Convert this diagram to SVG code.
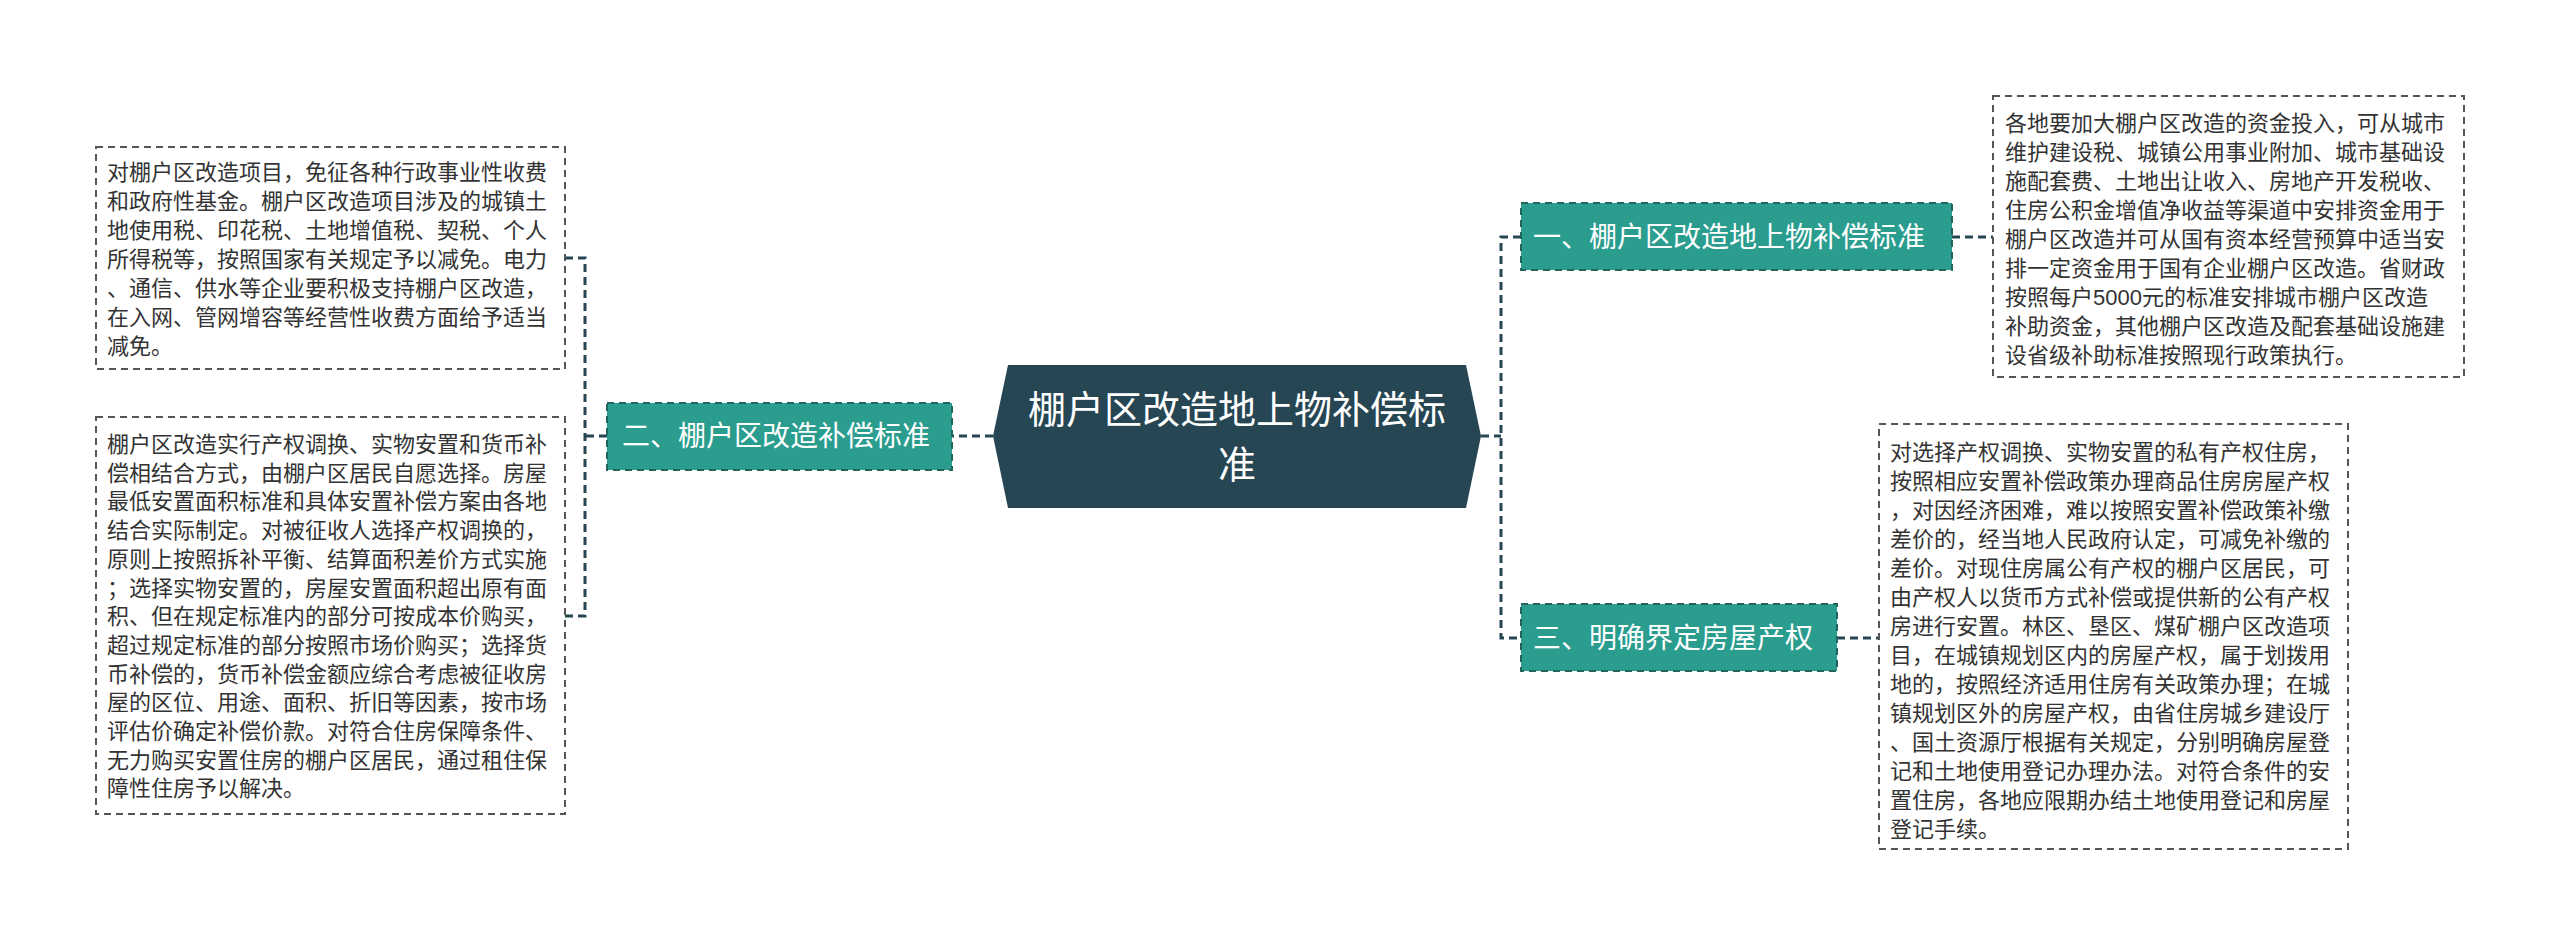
<svg xmlns="http://www.w3.org/2000/svg" width="2560" height="946" viewBox="0 0 2560 946">
<style>
text{font-family:"Liberation Sans","Noto Sans CJK SC",sans-serif}
.box{fill:#fff;stroke:#555;stroke-width:2;stroke-dasharray:7 5}
.bt{font-size:22px;fill:#333}
.sub{fill:#2a9d8f;stroke:#22655c;stroke-width:2;stroke-dasharray:7 5}
.st{font-size:28px;fill:#fff}
.con{fill:none;stroke:#264653;stroke-width:3;stroke-dasharray:8 5}
</style>
<rect width="2560" height="946" fill="#fff"/>
<g id="connectors">
<path class="con" d="M1481 436H1501M1521 237H1501V638H1521"/>
<path class="con" d="M993 436H952"/>
<path class="con" d="M607 436H585M565 258H585V616H565"/>
<path class="con" d="M1952 237H1993"/>
<path class="con" d="M1837 638H1879"/>
</g>
<g id="center">
<polygon points="993,436 1008,365 1466,365 1481,436 1466,508 1008,508" fill="#264653"/>
<text x="1237" y="423" font-size="38" fill="#fff" text-anchor="middle">棚户区改造地上物补偿标</text>
<text x="1237" y="478" font-size="38" fill="#fff" text-anchor="middle">准</text>
</g>
<g id="n2">
<rect class="sub" x="607" y="403" width="345" height="67"/>
<text class="st" x="622" y="446">二、棚户区改造补偿标准</text>
</g>
<g id="n1">
<rect class="sub" x="1521" y="203" width="431" height="67"/>
<text class="st" x="1533" y="247">一、棚户区改造地上物补偿标准</text>
</g>
<g id="n3">
<rect class="sub" x="1521" y="604" width="316" height="67"/>
<text class="st" x="1533" y="648">三、明确界定房屋产权</text>
</g>
<g id="l1">
<rect class="box" x="96" y="147" width="469" height="222"/>
<text class="bt" x="107" y="180"><tspan x="107">对棚户区改造项目，免征各种行政事业性收费</tspan><tspan x="107" dy="29">和政府性基金。棚户区改造项目涉及的城镇土</tspan><tspan x="107" dy="29">地使用税、印花税、土地增值税、契税、个人</tspan><tspan x="107" dy="29">所得税等，按照国家有关规定予以减免。电力</tspan><tspan x="107" dy="29">、通信、供水等企业要积极支持棚户区改造，</tspan><tspan x="107" dy="29">在入网、管网增容等经营性收费方面给予适当</tspan><tspan x="107" dy="29">减免。</tspan></text>
</g>
<g id="l2">
<rect class="box" x="96" y="417" width="469" height="397"/>
<text class="bt" x="107" y="452"><tspan x="107">棚户区改造实行产权调换、实物安置和货币补</tspan><tspan x="107" dy="28.7">偿相结合方式，由棚户区居民自愿选择。房屋</tspan><tspan x="107" dy="28.7">最低安置面积标准和具体安置补偿方案由各地</tspan><tspan x="107" dy="28.7">结合实际制定。对被征收人选择产权调换的，</tspan><tspan x="107" dy="28.7">原则上按照拆补平衡、结算面积差价方式实施</tspan><tspan x="107" dy="28.7">；选择实物安置的，房屋安置面积超出原有面</tspan><tspan x="107" dy="28.7">积、但在规定标准内的部分可按成本价购买，</tspan><tspan x="107" dy="28.7">超过规定标准的部分按照市场价购买；选择货</tspan><tspan x="107" dy="28.7">币补偿的，货币补偿金额应综合考虑被征收房</tspan><tspan x="107" dy="28.7">屋的区位、用途、面积、折旧等因素，按市场</tspan><tspan x="107" dy="28.7">评估价确定补偿价款。对符合住房保障条件、</tspan><tspan x="107" dy="28.7">无力购买安置住房的棚户区居民，通过租住保</tspan><tspan x="107" dy="28.7">障性住房予以解决。</tspan></text>
</g>
<g id="r1">
<rect class="box" x="1993" y="96" width="471" height="281"/>
<text class="bt" x="2005" y="131"><tspan x="2005">各地要加大棚户区改造的资金投入，可从城市</tspan><tspan x="2005" dy="29">维护建设税、城镇公用事业附加、城市基础设</tspan><tspan x="2005" dy="29">施配套费、土地出让收入、房地产开发税收、</tspan><tspan x="2005" dy="29">住房公积金增值净收益等渠道中安排资金用于</tspan><tspan x="2005" dy="29">棚户区改造并可从国有资本经营预算中适当安</tspan><tspan x="2005" dy="29">排一定资金用于国有企业棚户区改造。省财政</tspan><tspan x="2005" dy="29">按照每户5000元的标准安排城市棚户区改造</tspan><tspan x="2005" dy="29">补助资金，其他棚户区改造及配套基础设施建</tspan><tspan x="2005" dy="29">设省级补助标准按照现行政策执行。</tspan></text>
</g>
<g id="r2">
<rect class="box" x="1879" y="424" width="469" height="425"/>
<text class="bt" x="1890" y="460"><tspan x="1890">对选择产权调换、实物安置的私有产权住房，</tspan><tspan x="1890" dy="29">按照相应安置补偿政策办理商品住房房屋产权</tspan><tspan x="1890" dy="29">，对因经济困难，难以按照安置补偿政策补缴</tspan><tspan x="1890" dy="29">差价的，经当地人民政府认定，可减免补缴的</tspan><tspan x="1890" dy="29">差价。对现住房属公有产权的棚户区居民，可</tspan><tspan x="1890" dy="29">由产权人以货币方式补偿或提供新的公有产权</tspan><tspan x="1890" dy="29">房进行安置。林区、垦区、煤矿棚户区改造项</tspan><tspan x="1890" dy="29">目，在城镇规划区内的房屋产权，属于划拨用</tspan><tspan x="1890" dy="29">地的，按照经济适用住房有关政策办理；在城</tspan><tspan x="1890" dy="29">镇规划区外的房屋产权，由省住房城乡建设厅</tspan><tspan x="1890" dy="29">、国土资源厅根据有关规定，分别明确房屋登</tspan><tspan x="1890" dy="29">记和土地使用登记办理办法。对符合条件的安</tspan><tspan x="1890" dy="29">置住房，各地应限期办结土地使用登记和房屋</tspan><tspan x="1890" dy="29">登记手续。</tspan></text>
</g>
</svg>
